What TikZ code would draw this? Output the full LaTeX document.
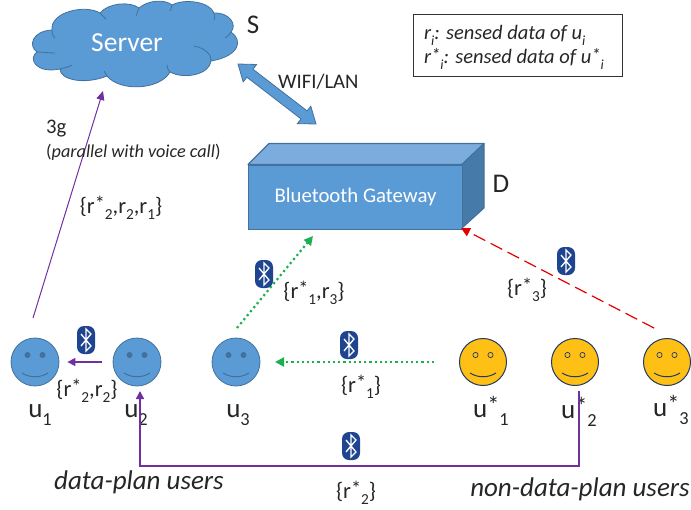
\documentclass[tikz,border=0pt]{standalone}
\usepackage{fontspec}
\usepackage{graphicx}
\setmainfont{Carlito}
\usetikzlibrary{arrows.meta}
\definecolor{blu}{HTML}{5B9BD5}
\definecolor{blue2}{HTML}{41719C}
\definecolor{topc}{HTML}{7CACDD}
\definecolor{sidec}{HTML}{467AA8}
\definecolor{gold}{HTML}{FFC015}
\definecolor{navy}{HTML}{203864}
\definecolor{btblue}{HTML}{1F4591}
\definecolor{purp}{HTML}{7030A0}
\definecolor{grn}{HTML}{1DB050}
\definecolor{txt}{HTML}{262626}
\newcommand{\lo}[1]{\raisebox{-.3em}{\scalebox{.68}{#1}}}
\newcommand{\hi}[1]{\raisebox{.12em}{\scalebox{.9}{#1}}}
\tikzset{
  lab/.style={font=\fontsize{20.7}{24}\selectfont,text=txt,inner sep=0pt,anchor=base},
  setl/.style={font=\fontsize{22.5}{26}\selectfont,text=txt,inner sep=0pt,anchor=base},
  ulab/.style={font=\fontsize{27}{32}\selectfont,text=txt,inner sep=0pt,anchor=base},
  ital/.style={font=\fontsize{27}{32}\selectfont\itshape,text=txt,inner sep=0pt,anchor=base},
  legt/.style={anchor=west,inner sep=0pt,font=\fontsize{20.5}{24}\selectfont\itshape,text=txt},
  bluef/.style={circle,draw=blue2,fill=blu,line width=.8pt,minimum size=48pt,inner sep=0pt},
  goldf/.style={circle,draw=navy,fill=gold,line width=1pt,minimum size=47pt,inner sep=0pt},
  purpa/.style={draw=purp,line width=1.3pt,-{Triangle[length=8pt,width=8pt]}},
  grna/.style={draw=grn,line width=2.2pt,dash pattern=on 2.2pt off 3pt,-{Triangle[length=9pt,width=9pt]}},
}
\newcommand{\facemarks}[3]{% node, eye fill, stroke
  \fill[#2,draw=#3,line width=.7pt] ([shift={(-7.5pt,7pt)}]#1.center) circle (2.6pt);
  \fill[#2,draw=#3,line width=.7pt] ([shift={(7.5pt,7pt)}]#1.center) circle (2.6pt);
  \draw[#3,line width=1pt] ([shift={(-13pt,-11pt)}]#1.center) .. controls ([shift={(-5pt,-16pt)}]#1.center) and ([shift={(5pt,-16pt)}]#1.center) .. ([shift={(13pt,-11pt)}]#1.center);
}
\newcommand{\btmark}[3]{% name, x, y
  \node[fill=btblue,rounded corners=7pt,minimum width=18pt,minimum height=28pt,inner sep=0pt] (#1) at (#2,#3) {};
  \draw[white,line width=1.3pt,line join=miter] ([shift={(-5pt,-6pt)}]#1.center) -- ([shift={(5pt,6pt)}]#1.center) -- ([shift={(0pt,11pt)}]#1.center) -- ([shift={(0pt,-11pt)}]#1.center) -- ([shift={(5pt,-6pt)}]#1.center) -- ([shift={(-5pt,6pt)}]#1.center);
}
\begin{document}
\begin{tikzpicture}[x=1pt,y=-1pt]
\useasboundingbox (0,0) rectangle (691,509);
% cloud
\draw[fill=blu,draw=blue2,line width=.8pt,line join=round]
 (37,52) .. controls (28,46) and (32,31) .. (52,30)
 .. controls (50,12) and (85,4) .. (100,13)
 .. controls (108,3) and (130,1) .. (139,8)
 .. controls (148,0) and (165,-1) .. (172,5)
 .. controls (185,-2) and (210,2) .. (214,13)
 .. controls (228,12) and (238,24) .. (231,32)
 .. controls (243,40) and (240,56) .. (211,61)
 .. controls (210,74) and (185,80) .. (170,72)
 .. controls (160,90) and (120,92) .. (107,76)
 .. controls (85,85) and (60,80) .. (60,69)
 .. controls (35,74) and (28,58) .. (37,52) -- cycle;
\draw[blue2,line width=.8pt] (37,52) .. controls (42,52) and (50,53) .. (55,53);
\draw[blue2,line width=.8pt] (52,30) .. controls (52,34) and (53,36) .. (55,38);
\draw[blue2,line width=.8pt] (100,13) .. controls (102,15) and (104,17) .. (106,19);
\draw[blue2,line width=.8pt] (139,8) .. controls (138,11) and (137,13) .. (136,16);
\draw[blue2,line width=.8pt] (172,5) .. controls (172,7) and (171,9) .. (170,11);
\draw[blue2,line width=.8pt] (214,13) .. controls (215,16) and (215,18) .. (214,20);
\draw[blue2,line width=.8pt] (231,32) .. controls (230,34) and (228,36) .. (225,38);
\draw[blue2,line width=.8pt] (194,46) .. controls (205,48) and (212,55) .. (211,61);
\draw[blue2,line width=.8pt] (170,72) .. controls (168,70) and (167,68) .. (167,65);
\draw[blue2,line width=.8pt] (107,76) .. controls (106,74) and (105,73) .. (104,71);
\draw[blue2,line width=.8pt] (60,69) .. controls (64,68) and (69,67) .. (72,65);
\node[inner sep=0pt,text=white,font=\fontsize{27.5}{32}\selectfont] (server) at (127,43) {Server};
\node[ulab] (S) at (253,33) {S};
% legend
\node[draw=black!80,line width=.9pt,minimum width=209pt,minimum height=62pt,inner sep=0pt,anchor=north west] (legend) at (413,14) {};
\node[legt] (leg1) at (424,35) {r\lo{i}: sensed data of u\lo{i}};
\node[legt] (leg2) at (424,59) {r\hi{*}\lo{i}: sensed data of u\hi{*}\lo{i}};
% double arrow
\draw[fill=blu,draw=blue2,line width=.8pt,line join=miter] (238,64) -- (243.2,81.9) -- (246.85,77.2) -- (301.05,118.9) -- (297.4,123.6) -- (316,124) -- (310.8,106.2) -- (307.15,110.9) -- (252.95,69.2) -- (256.6,64.5) -- cycle;
\node[lab,anchor=base west] (wifi) at (278,88) {WIFI/LAN};
% gateway
\draw[fill=topc,draw=blue2,line width=1.1pt,line join=round] (248,164.5) -- (269,143.5) -- (484,143.5) -- (462,164.5) -- cycle;
\draw[fill=sidec,draw=blue2,line width=1.1pt,line join=round] (462,164.5) -- (484,143.5) -- (484,208) -- (462,228) -- cycle;
\node[draw=blue2,fill=blu,line width=1.1pt,minimum width=214pt,minimum height=64pt,inner sep=0pt,anchor=north west,text=white,font=\fontsize{20.8}{24}\selectfont] (gw) at (248,164.5) {\raisebox{-2pt}{Bluetooth Gateway}};
\node[ulab] (D) at (501,192) {D};
% users
\node[bluef] (u1) at (35,362) {};
\node[bluef] (u2) at (137,362) {};
\node[bluef] (u3) at (236,362) {};
\node[goldf] (v1) at (483,362) {};
\node[goldf] (v2) at (575,362) {};
\node[goldf] (v3) at (667,362) {};
\facemarks{u1}{blue2}{blue2}
\facemarks{u2}{blue2}{blue2}
\facemarks{u3}{blue2}{blue2}
\facemarks{v1}{gold}{navy}
\facemarks{v2}{gold}{navy}
\facemarks{v3}{gold}{navy}
\node[ulab] (lu1) at (40,417) {u\lo{1}};
\node[ulab] (lu2) at (136,417) {u\lo{2}};
\node[ulab] (lu3) at (238,417) {u\lo{3}};
\node[ulab] (lv1) at (491,417) {u\hi{*}\lo{1}};
\node[ulab] (lv2) at (579,418) {u\hi{*}\lo{2}};
\node[ulab] (lv3) at (671,416) {u\hi{*}\lo{3}};
% connectors
\coordinate (a1) at (33,318);
\coordinate (a2) at (103,91);
\draw[purp,line width=1pt,-{Triangle[length=9pt,width=8pt]}] (a1) -- (a2);
\draw[purpa,shorten <=11pt,shorten >=8pt] (u2.west) -- (u1.east);
\coordinate (c1) at (579,391);
\coordinate (c2) at (140,391);
\draw[purpa] (c1) -- (579,466) -- (140,466) -- (c2);
\coordinate (d1) at (237,328);
\coordinate (d2) at (313,236);
\draw[grna] (d1) -- (d2);
\coordinate (e1) at (434,362);
\coordinate (e2) at (275,362);
\draw[grna] (e1) -- (e2);
\coordinate (f1) at (654,328);
\coordinate (f2) at (461,228);
\draw[red!90!black,line width=1.2pt,dash pattern=on 13pt off 6pt,-{Triangle[length=9pt,width=9pt]}] (f1) -- (f2);
% bluetooth marks
\btmark{bt1}{86}{340}
\btmark{bt2}{264}{274}
\btmark{bt3}{349}{345}
\btmark{bt4}{351}{446}
\btmark{bt5}{566}{261}
% labels
\node[lab,anchor=base west] (g3) at (46,133) {3g};
\node[anchor=base west,inner sep=0pt,font=\fontsize{18.2}{22}\selectfont,text=txt] (par) at (46,157) {(\textit{parallel with voice call})};
\node[setl] (t1) at (121,213) {\{r\hi{*}\lo{2},r\lo{2},r\lo{1}\}};
\node[setl] (t2) at (87,396) {\{r\hi{*}\lo{2},r\lo{2}\}};
\node[setl] (t3) at (314,298) {\{r\hi{*}\lo{1},r\lo{3}\}};
\node[setl] (t4) at (361,392) {\{r\hi{*}\lo{1}\}};
\node[setl] (t5) at (356,498) {\{r\hi{*}\lo{2}\}};
\node[setl] (t6) at (527,295) {\{r\hi{*}\lo{3}\}};
\node[ital] (dp) at (139,489) {data-plan users};
\node[ital] (ndp) at (580,496) {non-data-plan users};
\end{tikzpicture}
\end{document}
